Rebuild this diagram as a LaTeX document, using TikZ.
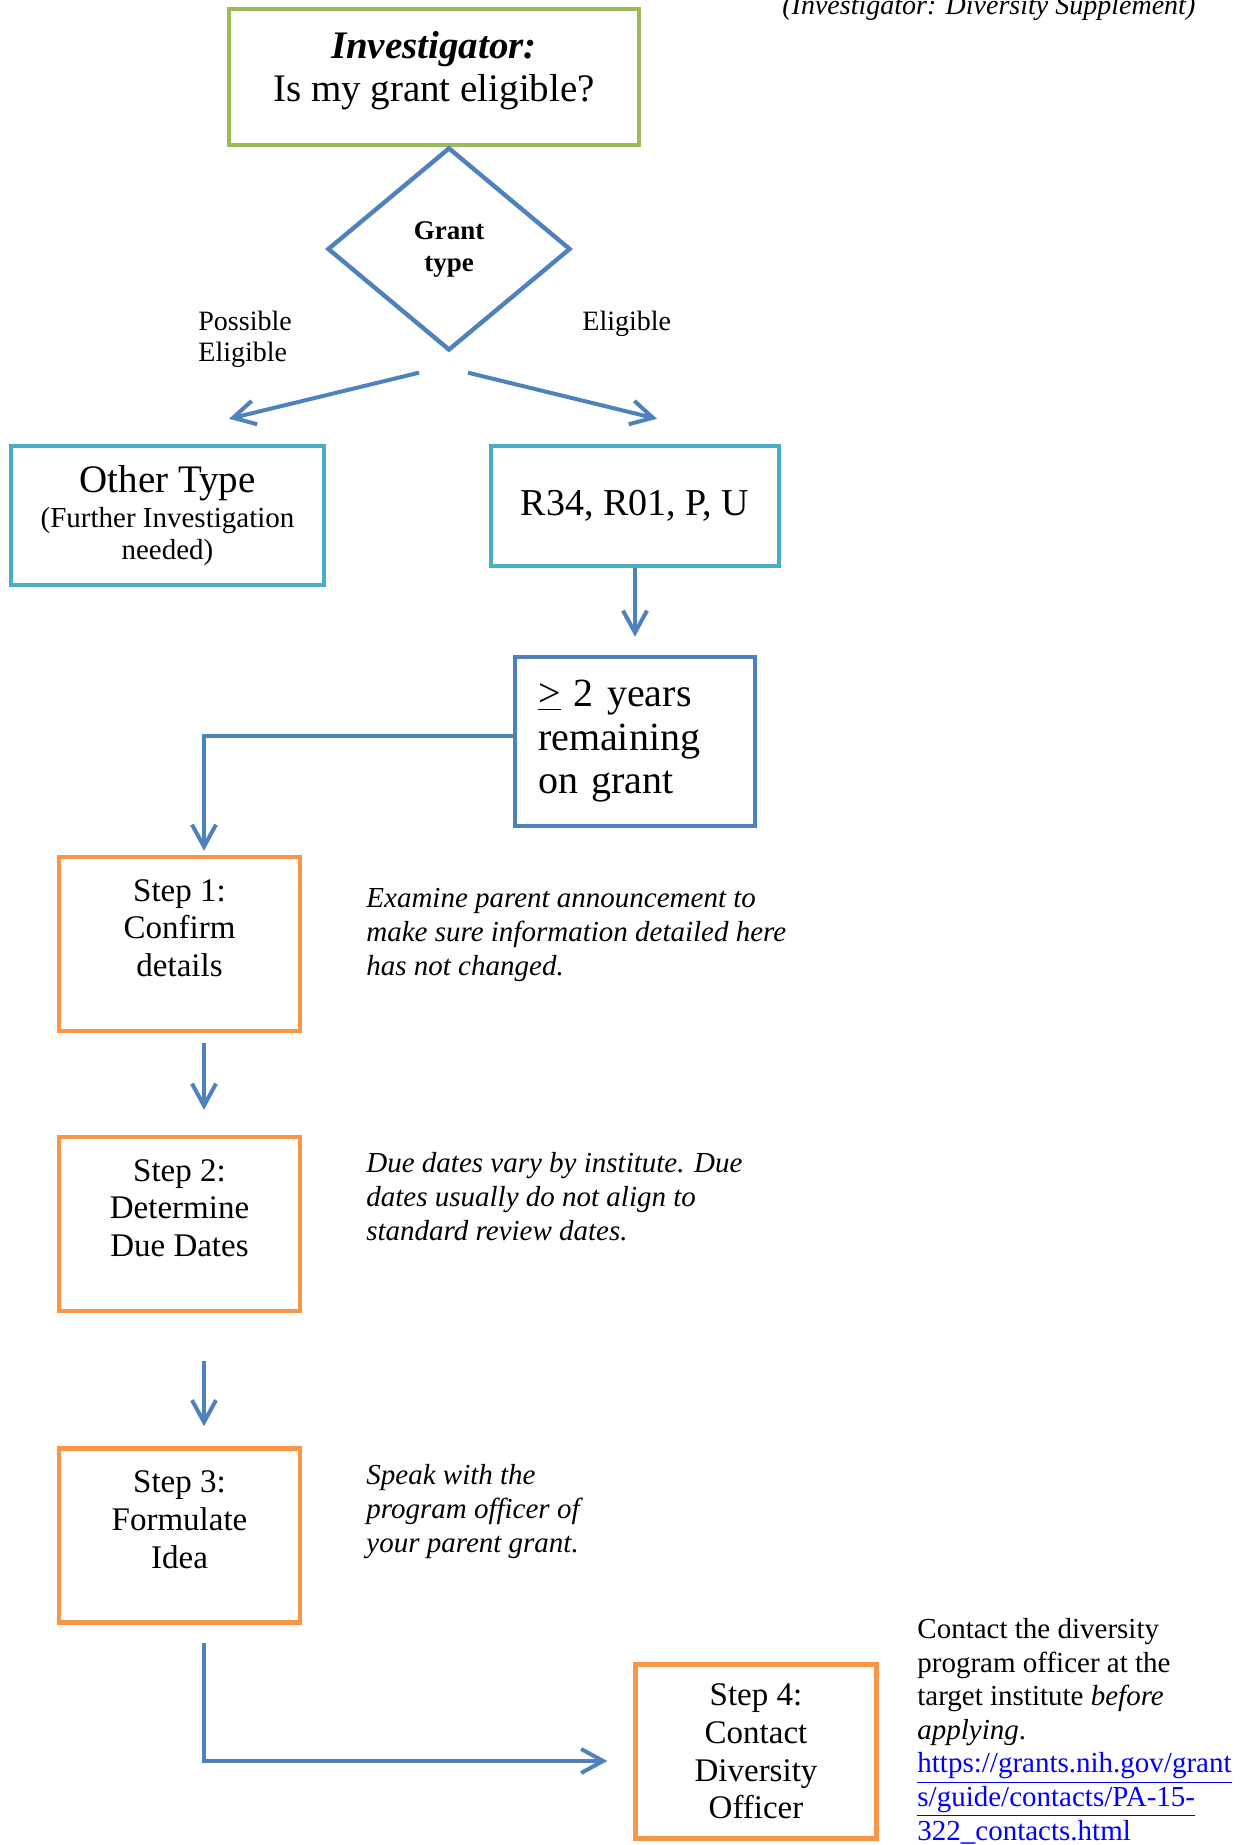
\documentclass[tikz,border=0pt]{standalone}
\usepackage{fontspec}
\setmainfont{Liberation Serif}
\usetikzlibrary{arrows.meta,shapes.geometric,calc}
\definecolor{boxgreen}{HTML}{9BBB59}
\definecolor{flowblue}{HTML}{4F81BD}
\definecolor{boxcyan}{HTML}{4BACC6}
\definecolor{steporange}{HTML}{F79646}
\definecolor{linkblue}{HTML}{0000FF}

\begin{document}
\begin{tikzpicture}[x=0.5pt,y=-0.5pt,
  every node/.style={inner sep=0pt},
  box/.style={draw,line width=2.2pt,align=center},
  stepbox/.style={box,draw=steporange,minimum width=120.5pt,minimum height=87pt,font=\fontsize{16.5}{18.8}\selectfont},
  note/.style={anchor=north west,align=left,font=\fontsize{14.5}{17}\selectfont\itshape},
  flow/.style={draw=flowblue,line width=2pt,-{Straight Barb[length=11pt,width=12pt]}}
]
\useasboundingbox (0,0) rectangle (1246,1845);

\node[anchor=base west,font=\fontsize{14}{16}\selectfont\itshape] (title) at (782,15) {(Investigator: Diversity Supplement)};

% question and grant type
\node[box,draw=boxgreen,minimum width=205pt,minimum height=68pt,font=\fontsize{19.5}{21.5}\selectfont] (ask) at (434,77) {\textbf{\textit{Investigator:}}\\Is my grant eligible?\\[-11pt]\mbox{}};
\node[diamond,draw=flowblue,line width=2.2pt,minimum width=121.5pt,minimum height=101.5pt,align=center,font=\fontsize{13.5}{16}\selectfont\bfseries] (grant) at (449,249) {Grant\\type};
\node[anchor=north west,align=left,font=\fontsize{14}{15.5}\selectfont] (maybe) at (198,311) {Possible\\Eligible};
\node[anchor=north west,font=\fontsize{14}{15.5}\selectfont] (yes) at (582,311) {Eligible};

\node[box,draw=boxcyan,minimum width=156.5pt,minimum height=69.5pt,font=\fontsize{14.5}{16}\selectfont] (other) at (167.5,515.5) {{\fontsize{19.5}{21}\selectfont Other Type}\\[1.4pt](Further Investigation\\needed)};
\node[box,draw=boxcyan,minimum width=144pt,minimum height=60pt,font=\fontsize{19}{21}\selectfont] (r34) at (635,506) {R34, R01, P, U};
\node[box,draw=flowblue,align=left,text width=97pt,inner xsep=11.5pt,minimum height=84.5pt,font=\fontsize{20}{21.75}\selectfont] (years) at (635,741.5) {\underline{>} 2 years\\remaining\\on grant};

% steps
\node[stepbox] (step1) at (179.5,944) {Step 1:\\Confirm\\details\\[-2.8pt]\mbox{}};
\node[stepbox] (step2) at (179.5,1224) {Step 2:\\Determine\\Due Dates\\[-2.8pt]\mbox{}};
\node[stepbox] (step3) at (179.5,1535.5) {Step 3:\\Formulate\\Idea\\[-2.8pt]\mbox{}};
\node[stepbox] (step4) at (756,1751.5) {Step 4:\\Contact\\Diversity\\Officer};

\node[note] (check) at (366,888) {Examine parent announcement to\\make sure information detailed here\\has not changed.};
\node[note] (dates) at (366,1152) {Due dates vary by institute. Due\\dates usually do not align to\\standard review dates.};
\node[note] (speak) at (366,1464) {Speak with the\\program officer of\\your parent grant.};
\node[note,font=\fontsize{14.5}{16.8}\selectfont] (contact) at (917,1618) {Contact the diversity\\program officer at the\\target institute \textit{before}\\\textit{applying}.\\\textcolor{linkblue}{\underline{https://grants.nih.gov/grant}}\\\textcolor{linkblue}{\underline{s/guide/contacts/PA-15-}}\\\textcolor{linkblue}{\underline{322\_contacts.html}}};

% connectors
\draw[flow] ($(grant.south)+(-30,20)$) -- ($(other.north)+(61.5,-25)$);
\draw[flow] ($(grant.south)+(19,20)$) -- ($(r34.north)+(22,-25)$);
\draw[flow,shorten >=9pt] (r34.south) -- (years.north);
\draw[flow] ($(years.west)+(0,-6)$) -| ($(step1.north)+(24.5,-4)$);
\draw[flow,shorten <=5pt,shorten >=12.5pt] ($(step1.south)+(24.5,0)$) -- ($(step2.north)+(24.5,0)$);
\draw[flow,shorten <=24pt,shorten >=10pt] ($(step2.south)+(24.5,0)$) -- ($(step3.north)+(24.5,0)$);
\draw[flow] ($(step3.south)+(24.5,18)$) |- ($(step4.west)+(-26,9.5)$);
\end{tikzpicture}
\end{document}
